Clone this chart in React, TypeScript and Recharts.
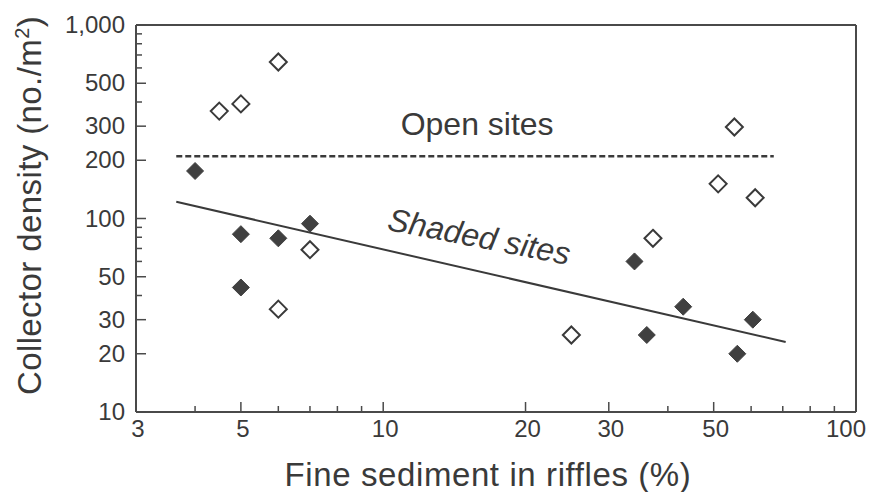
import { ScatterChart, Scatter, XAxis, YAxis, ReferenceLine, ReferenceDot } from 'recharts'

// open (unshaded) sites, hollow diamonds
const openX = [4.5, 5.0, 6.0, 6.0, 7.0, 25.0, 37.2, 51.1, 55.3, 61.2]
const openY = [359, 391, 644, 34, 69, 25, 79, 151, 297, 128]

// shaded sites, filled diamonds
const shadedX = [4.0, 5.0, 6.0, 7.0, 5.0, 34.0, 36.1, 43.1, 56.1, 60.5]
const shadedY = [176, 83, 79, 94, 44, 60, 25, 35, 20, 30]

// reference lines (ends of each)
const openLine = [{ x: 3.65, y: 210 }, { x: 67, y: 210 }]
const shadedFit = [{ x: 3.65, y: 122 }, { x: 71, y: 23 }]

const xTicks = [3, 4, 5, 6, 7, 8, 9, 10, 20, 30, 40, 50, 60, 70, 80, 90, 100]
const xLabels = [3, 5, 10, 20, 30, 50, 100]
const yTicks = [10, 20, 30, 40, 50, 60, 70, 80, 90, 100, 200, 300, 400, 500, 600, 700, 800, 900, 1000]
const yLabels = [10, 20, 30, 50, 100, 200, 300, 500, 1000]

const openData = openX.map((x, i) => ({ x, y: openY[i] }))
const shadedData = shadedX.map((x, i) => ({ x, y: shadedY[i] }))

const ink = '#3a3a3a'
const axisInk = '#4a4a4a'
const font = '"Liberation Sans", Arial, Helvetica, sans-serif'

const fmt = (v: number) => v.toLocaleString('en-US')

const XTick = (props: any) => {
  const { x, y, payload } = props
  const v = payload.value
  const major = xLabels.includes(v)
  const last = v === 100
  return (
    <g>
      <line x1={x} y1={y} x2={x} y2={y - (major ? 10 : 6)} stroke={axisInk} strokeWidth={1.5} />
      {major && (
        <text x={last ? x + 10 : x + 2} y={y + 25} textAnchor={last ? 'end' : 'middle'}
          fontSize={24} fontFamily={font} fill={ink}>
          {fmt(v)}
        </text>
      )}
    </g>
  )
}

const YTick = (props: any) => {
  const { x, y, payload } = props
  const major = yLabels.includes(payload.value)
  return (
    <g>
      <line x1={x} y1={y} x2={x + (major ? 10 : 6)} y2={y} stroke={axisInk} strokeWidth={1.5} />
      {major && (
        <text x={x - 11} y={y + 8} textAnchor="end" fontSize={24} fontFamily={font} fill={ink}>
          {fmt(payload.value)}
        </text>
      )}
    </g>
  )
}

const Diamond = ({ cx, cy, filled }: any) => {
  const r = 8.5
  const pts = `${cx},${cy - r} ${cx + r},${cy} ${cx},${cy + r} ${cx - r},${cy}`
  return filled
    ? <polygon points={pts} fill="#404040" stroke="#404040" strokeWidth={1} />
    : <polygon points={pts} fill="#fff" stroke={ink} strokeWidth={2} />
}

export default function App() {
  return (
    <div style={{ position: 'absolute', left: 0, top: 0, background: '#fff' }}>
      <ScatterChart width={871} height={492} margin={{ top: 25, right: 15, bottom: 0, left: 0 }}>
        <XAxis
          dataKey="x"
          type="number"
          scale="log"
          domain={[3, 100]}
          ticks={xTicks}
          interval={0}
          allowDataOverflow
          height={80}
          tickSize={0}
          tickMargin={0}
          tickLine={false}
          axisLine={{ stroke: axisInk, strokeWidth: 2 }}
          tick={<XTick />}
          label={{
            content: ({ viewBox }: any) => (
              <text x={viewBox.x + viewBox.width / 2 - 8} y={viewBox.y + 74} textAnchor="middle"
                fontSize={33} letterSpacing={0.6} fontFamily={font} fill={ink}>
                Fine sediment in riffles (%)
              </text>
            ),
          }}
        />
        <YAxis
          dataKey="y"
          type="number"
          scale="log"
          domain={[10, 1000]}
          ticks={yTicks}
          interval={0}
          allowDataOverflow
          width={136}
          tickSize={0}
          tickMargin={0}
          tickLine={false}
          axisLine={{ stroke: axisInk, strokeWidth: 2 }}
          tick={<YTick />}
          label={{
            content: ({ viewBox }: any) => {
              const cx = 41
              const cy = viewBox.y + viewBox.height / 2 - 13
              return (
                <text x={cx} y={cy} transform={`rotate(-90, ${cx}, ${cy})`} textAnchor="middle"
                  fontSize={33} letterSpacing={0.4} fontFamily={font} fill={ink}>
                  Collector density (no./m<tspan dy={-12} fontSize={20}>2</tspan><tspan dy={12}>)</tspan>
                </text>
              )
            },
          }}
        />
        <ReferenceLine x={100} stroke={axisInk} strokeWidth={2} />
        <ReferenceLine y={1000} stroke={axisInk} strokeWidth={2} />
        <ReferenceLine segment={openLine} stroke={ink} strokeWidth={2.5} strokeDasharray="6 3" />
        <ReferenceLine segment={shadedFit} stroke={ink} strokeWidth={2} />
        <ReferenceDot
          x={15.8}
          y={270}
          r={0}
          shape={({ cx, cy }: any) => (
            <text x={cx} y={cy} textAnchor="middle" fontSize={32} fontFamily={font} fill={ink}>
              Open sites
            </text>
          )}
        />
        <ReferenceDot
          x={15.8}
          y={71}
          r={0}
          shape={({ cx, cy }: any) => (
            <text x={cx} y={cy} textAnchor="middle" transform={`rotate(11, ${cx}, ${cy})`}
              fontSize={32} fontStyle="italic" fontFamily={font} fill={ink}>
              Shaded sites
            </text>
          )}
        />
        <Scatter data={openData} isAnimationActive={false} shape={(p: any) => <Diamond {...p} />} />
        <Scatter data={shadedData} isAnimationActive={false} shape={(p: any) => <Diamond {...p} filled />} />
      </ScatterChart>
    </div>
  )
}
